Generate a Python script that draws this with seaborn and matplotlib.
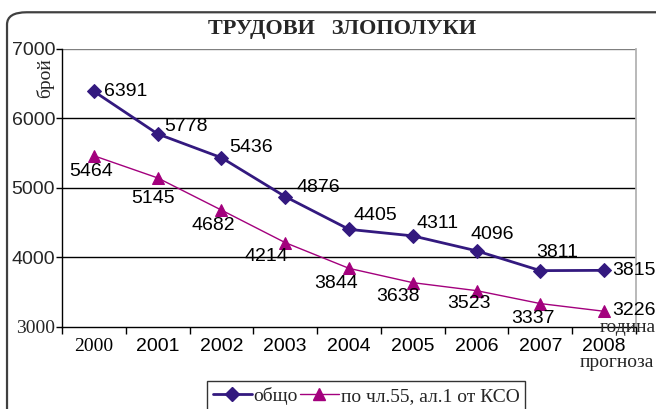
import matplotlib
matplotlib.use("Agg")
import matplotlib.pyplot as plt
import seaborn as sns
import pandas as pd
from matplotlib.patches import FancyBboxPatch
from matplotlib.lines import Line2D

# --- данни ---
godini = ["2000", "2001", "2002", "2003", "2004", "2005", "2006", "2007", "2008"]
obshto = [6391, 5778, 5436, 4876, 4405, 4311, 4096, 3811, 3815]
po_chl55 = [5464, 5145, 4682, 4214, 3844, 3638, 3523, 3337, 3226]
y_ticks = [3000, 4000, 5000, 6000, 7000]

c_obshto = "#33197f"
c_chl55 = "#a3007d"

sns.set_theme(style="white")
plt.rcParams["font.family"] = ["Liberation Sans", "DejaVu Sans"]
serif = ["Liberation Serif", "DejaVu Serif"]
fs = 14

fig = plt.figure(figsize=(6.56, 4.09), dpi=100)
ax = fig.add_axes([0.0945, 0.2005, 0.875, 0.6797])

# рамка около цялата диаграма
frame = FancyBboxPatch((0.0107, -0.2), 1.2, 1.17, transform=fig.transFigure,
                       boxstyle="round,pad=0,rounding_size=0.03",
                       fc="none", ec="#404040", lw=1.6, zorder=0)
fig.patches.append(frame)

df = pd.DataFrame({"година": godini, "общо": obshto, "чл55": po_chl55})

sns.lineplot(data=df, x="година", y="общо", color=c_obshto, lw=2,
             marker="D", markersize=7, markeredgecolor=c_obshto, ax=ax)
sns.lineplot(data=df, x="година", y="чл55", color=c_chl55, lw=1,
             marker="^", markersize=9, markeredgecolor=c_chl55, ax=ax)

# етикети със стойностите (отместване в пиксели)
off_obshto = [(10, 0, "left"), (7, 7, "left"), (8, 10, "left"), (11, 9, "left"),
              (5, 14, "left"), (4, 12, "left"), (16, 16, "center"),
              (17, 18, "center"), (8, 0, "left")]
off_chl55 = [(-3, -16, "center"), (-5, -21, "center"), (-8, -15, "center"),
             (-19, -14, "center"), (-13, -15, "center"), (-15, -14, "center"),
             (-8, -13, "center"), (-7, -15, "center"), (8, 1, "left")]

for i, v in enumerate(obshto):
    dx, dy, ha = off_obshto[i]
    ax.annotate(str(v), (i, v), xytext=(dx, dy), textcoords="offset pixels",
                ha=ha, va="center", fontsize=fs, color="black")
for i, v in enumerate(po_chl55):
    dx, dy, ha = off_chl55[i]
    ax.annotate(str(v), (i, v), xytext=(dx, dy), textcoords="offset pixels",
                ha=ha, va="center", fontsize=fs, color="black")

ax.set_xlim(-0.5, len(godini) - 0.5)
ax.set_ylim(3000, 7000)
ax.set_yticks(y_ticks)
ax.set_yticklabels([str(t) for t in y_ticks], fontsize=fs)
ax.set_xticks(range(len(godini)))
ax.set_xticklabels(godini, fontsize=fs)
ax.set_xticks([i - 0.5 for i in range(len(godini) + 1)], minor=True)
ax.tick_params(axis="x", which="major", length=0, pad=8, colors="black")
ax.tick_params(axis="x", which="minor", length=5, width=1, color="black", bottom=True)
ax.tick_params(axis="y", length=4, width=1, color="black", pad=1, left=True)

# някои етикети са с друг шрифт в оригинала
ax.get_yticklabels()[0].set_family(serif)
ax.get_xticklabels()[0].set_family(serif)

for y in y_ticks[1:-1]:
    ax.axhline(y, color="black", lw=1, zorder=0)
ax.axhline(7000, color="#808080", lw=1, zorder=0)

ax.spines["left"].set_color("black")
ax.spines["bottom"].set_color("black")
ax.spines["right"].set_color("#b0b0b0")
ax.spines["top"].set_visible(False)
for s in ["left", "bottom"]:
    ax.spines[s].set_linewidth(1)

ax.set_xlabel("")
ax.set_ylabel("")

fig.text(0.522, 0.93, "ТРУДОВИ   ЗЛОПОЛУКИ", ha="center", va="center",
         fontsize=16, fontweight="bold", family=serif)
fig.text(0.069, 0.809, "брой", rotation=90, ha="center", va="center",
         fontsize=fs, family=serif)
fig.text(0.957, 0.2, "година", ha="center", va="center", fontsize=fs, family=serif)
fig.text(0.94, 0.113, "прогноза", ha="center", va="center", fontsize=fs, family=serif)

handles = [Line2D([], [], color=c_obshto, lw=2, marker="D", markersize=7),
           Line2D([], [], color=c_chl55, lw=1, marker="^", markersize=9)]
leg = fig.legend(handles, ["общо", "по чл.55, ал.1 от КСО"], loc="upper left",
                 bbox_to_anchor=(0.3155, 0.069), borderaxespad=0, ncol=2,
                 frameon=True, fancybox=False, edgecolor="black",
                 handlelength=2.0, handletextpad=0.1, columnspacing=0.1,
                 borderpad=0.3, prop={"family": serif, "size": fs})
leg.get_frame().set_linewidth(1)

fig.savefig("out.png", dpi=100)
